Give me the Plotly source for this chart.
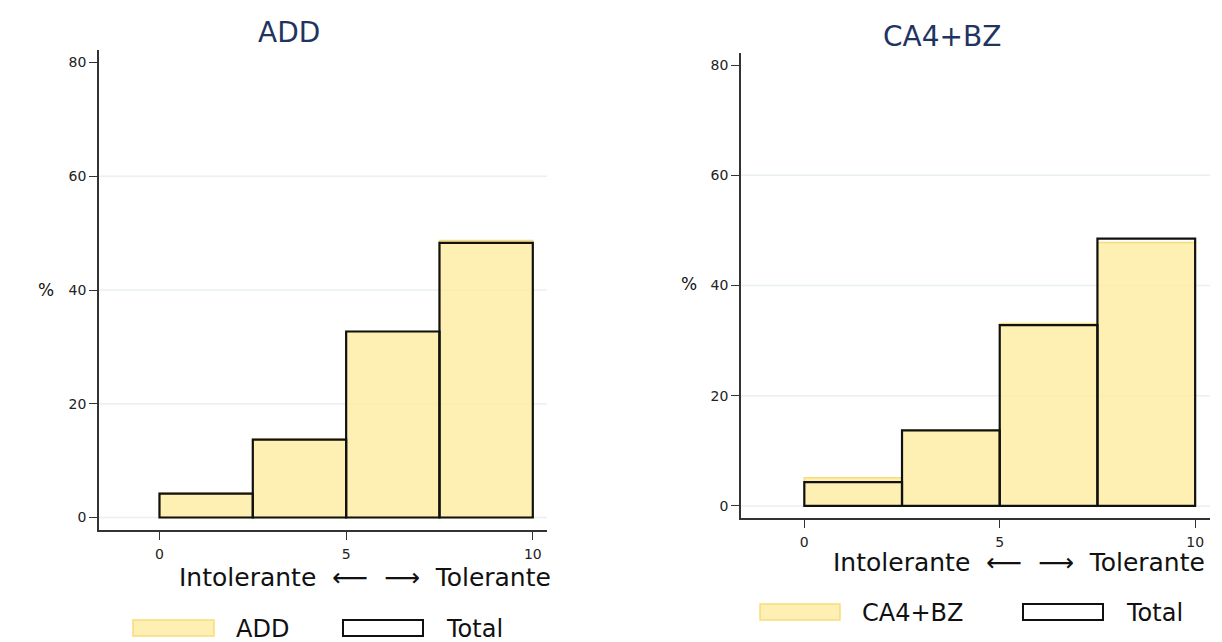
import plotly.graph_objects as go

# ---- data ----
bin_left = [0, 2.5, 5, 7.5]
bin_width = 2.5
add_pct = [4.3, 13.8, 32.7, 48.7]
add_total_pct = [4.2, 13.7, 32.7, 48.3]
ca4_pct = [5.1, 13.7, 33.1, 47.8]
ca4_total_pct = [4.3, 13.7, 32.8, 48.5]
panel_titles = ["ADD", "CA4+BZ"]
y_ticks = [0, 20, 40, 60, 80]
x_ticks = [0, 5, 10]

FONT = "DejaVu Sans"
FILL = "rgba(254,236,160,0.80)"
FILL_EDGE = "rgba(246,216,110,0.9)"
TITLE_COL = "#1f3461"

mids = [b + bin_width / 2 for b in bin_left]

fig = go.Figure()

panels = [
    dict(xa="x", ya="y", grp=add_pct, tot=add_total_pct),
    dict(xa="x2", ya="y2", grp=ca4_pct, tot=ca4_total_pct),
]
for i, p in enumerate(panels):
    fig.add_trace(go.Bar(
        x=mids, y=p["grp"], width=bin_width, xaxis=p["xa"], yaxis=p["ya"],
        marker=dict(color=FILL, line=dict(color=FILL_EDGE, width=1.5)),
        name=panel_titles[i], showlegend=False, hoverinfo="x+y"))
    fig.add_trace(go.Bar(
        x=mids, y=p["tot"], width=bin_width, xaxis=p["xa"], yaxis=p["ya"],
        marker=dict(color="rgba(0,0,0,0)", line=dict(color="#111111", width=2.2)),
        name="Total", showlegend=False, hoverinfo="x+y"))

axis_common = dict(showline=True, linecolor="#333333", linewidth=1.5,
                   ticks="outside", ticklen=8, tickcolor="#333333", tickwidth=1,
                   zeroline=False, showgrid=False,
                   tickfont=dict(family=FONT, size=14, color="#222222"))

x_domains = [[99 / 1222, 547 / 1222], [741 / 1222, 1210 / 1222]]
y_domains = [[(642 - 530) / 642, (642 - 50) / 642], [(642 - 518) / 642, (642 - 53) / 642]]

layout = dict(
    width=1222, height=642, margin=dict(l=0, r=0, t=0, b=0),
    paper_bgcolor="white", plot_bgcolor="white",
    barmode="overlay", showlegend=False,
    font=dict(family=FONT),
)
for i in range(2):
    sx = "" if i == 0 else "2"
    layout["xaxis" + sx] = dict(axis_common, domain=x_domains[i], range=[-1.62, 10.38],
                                tickvals=x_ticks, anchor="y" + sx, ticklabelstandoff=2)
    layout["yaxis" + sx] = dict(axis_common, domain=y_domains[i], range=[-2.2, 82.2],
                                tickvals=y_ticks, anchor="x" + sx)
fig.update_layout(**layout)

shapes = []
annotations = []
# gridlines (0-60)
for i in range(2):
    sx = "" if i == 0 else "2"
    for v in y_ticks[:-1]:
        shapes.append(dict(type="line", xref=("x" + sx) + " domain", yref="y" + sx,
                           x0=0, x1=1, y0=v, y1=v,
                           line=dict(color="#e9f0f2", width=1.5), layer="below"))

# titles, axis titles
title_pos = [(289, 33), (942, 37)]
xtitle_pos = [(365, 577), (1019, 562)]
ylab_pos = [(46, 290), (689, 284)]
for i in range(2):
    annotations.append(dict(text=panel_titles[i], x=title_pos[i][0] / 1222, y=1 - title_pos[i][1] / 642,
                            xref="paper", yref="paper", showarrow=False,
                            font=dict(family=FONT, size=28, color=TITLE_COL),
                            xanchor="center", yanchor="middle"))
    annotations.append(dict(text="Intolerante  \u27f5  \u27f6  Tolerante",
                            x=xtitle_pos[i][0] / 1222, y=1 - xtitle_pos[i][1] / 642,
                            xref="paper", yref="paper", showarrow=False,
                            font=dict(family=FONT, size=25, color="#111111"),
                            xanchor="center", yanchor="middle"))
    annotations.append(dict(text="%", x=ylab_pos[i][0] / 1222, y=1 - ylab_pos[i][1] / 642,
                            xref="paper", yref="paper", showarrow=False,
                            font=dict(family=FONT, size=17, color="#111111"),
                            xanchor="center", yanchor="middle"))

# legends (manual, wide swatches)
legends = [
    dict(y=628, sw=(133, 214), lab1=(234, panel_titles[0]), box=(343, 423), lab2=(444, "Total")),
    dict(y=612, sw=(760, 840), lab1=(860, panel_titles[1]), box=(1023, 1103), lab2=(1124, "Total")),
]
for L in legends:
    yc = L["y"]
    y0 = 1 - (yc + 8) / 642
    y1 = 1 - (yc - 8) / 642
    shapes.append(dict(type="rect", xref="paper", yref="paper",
                       x0=L["sw"][0] / 1222, x1=L["sw"][1] / 1222, y0=y0, y1=y1,
                       fillcolor=FILL, line=dict(color=FILL_EDGE, width=1.5)))
    shapes.append(dict(type="rect", xref="paper", yref="paper",
                       x0=L["box"][0] / 1222, x1=L["box"][1] / 1222, y0=y0, y1=y1,
                       fillcolor="white", line=dict(color="#111111", width=2)))
    for (xx, txt) in (L["lab1"], L["lab2"]):
        annotations.append(dict(text=txt, x=xx / 1222, y=1 - (yc + 1) / 642,
                                xref="paper", yref="paper", showarrow=False,
                                font=dict(family=FONT, size=24, color="#111111"),
                                xanchor="left", yanchor="middle"))

fig.update_layout(shapes=shapes, annotations=annotations)
fig.write_html("out.html", config={"displayModeBar": False},
               post_script="document.body.style.margin='0';document.body.style.overflow='hidden';")
